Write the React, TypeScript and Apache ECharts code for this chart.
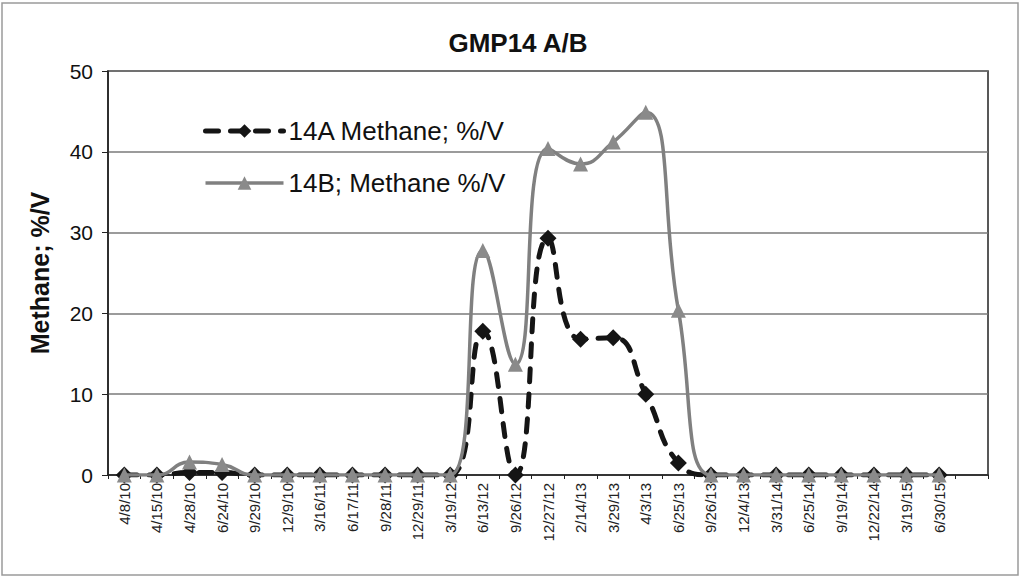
import React, { useEffect, useRef } from "react";
import * as echarts from "echarts";

const categories = [
  "4/8/10", "4/15/10", "4/28/10", "6/24/10", "9/29/10", "12/9/10", "3/16/11",
  "6/17/11", "9/28/11", "12/29/11", "3/19/12", "6/13/12", "9/26/12", "12/27/12",
  "2/14/13", "3/29/13", "4/3/13", "6/25/13", "9/26/13", "12/4/13", "3/31/14",
  "6/25/14", "9/19/14", "12/22/14", "3/19/15", "6/30/15", "",
];

const methane14A = [
  0, 0, 0.3, 0.3, 0, 0, 0, 0, 0, 0, 0, 17.8, 0, 29.3, 16.8, 17, 10, 1.5, 0, 0, 0,
  0, 0, 0, 0, 0, null,
];

const methane14B = [
  0, 0, 1.6, 1.3, 0, 0, 0, 0, 0, 0, 0, 27.8, 13.7, 40.4, 38.5, 41.2, 44.9, 20.4, 0,
  0, 0, 0, 0, 0, 0, 0, null,
];

const yTicks = [0, 10, 20, 30, 40, 50];

const FONT = "'Liberation Sans', Arial, sans-serif";

export default function App() {
  const ref = useRef<HTMLDivElement>(null);

  useEffect(() => {
    if (!ref.current) return;
    const chart = echarts.init(ref.current, undefined, { renderer: "svg" });
    chart.setOption({
      animation: false,
      backgroundColor: "#ffffff",
      title: {
        text: "GMP14 A/B",
        left: 513,
        top: 25,
        textAlign: "center",
        textStyle: {
          fontFamily: FONT,
          fontSize: 26,
          fontWeight: "bold",
          color: "#111",
        },
      },
      graphic: [
        {
          type: "rect",
          shape: { x: 2, y: 3, width: 1016, height: 572 },
          style: { fill: "none", stroke: "#9a9a9a", lineWidth: 1.5 },
          silent: true,
        },
      ],
      legend: {
        orient: "vertical",
        left: 198,
        top: 113,
        itemGap: 26,
        itemWidth: 78,
        itemHeight: 17,
        textStyle: { fontFamily: FONT, fontSize: 26, color: "#111" },
        data: [
          {
            name: "14A Methane; %/V",
            lineStyle: { width: 5, type: [13, 12], cap: "round", color: "#151515" },
          },
          {
            name: "14B; Methane %/V",
            lineStyle: { width: 3.5, color: "#808080" },
          },
        ],
      },
      grid: {
        left: 108,
        right: 33,
        top: 71,
        bottom: 103,
        show: true,
        borderColor: "#222",
        borderWidth: 1.5,
        backgroundColor: "transparent",
      },
      xAxis: {
        type: "category",
        data: categories,
        boundaryGap: true,
        axisLine: { lineStyle: { color: "#222", width: 1.5 } },
        axisTick: {
          show: true,
          interval: 0,
          length: 4,
          lineStyle: { color: "#222" },
        },
        axisLabel: {
          interval: 0,
          rotate: 90,
          fontFamily: FONT,
          fontSize: 15,
          color: "#222",
          margin: 8,
        },
      },
      yAxis: {
        type: "value",
        min: 0,
        max: 50,
        interval: 10,
        name: "Methane; %/V",
        nameLocation: "middle",
        nameGap: 56,
        nameTextStyle: {
          fontFamily: FONT,
          fontSize: 25,
          fontWeight: "bold",
          color: "#111",
        },
        axisLine: { show: true, lineStyle: { color: "#222", width: 1.5 } },
        axisTick: { show: true, length: 6, inside: false, lineStyle: { color: "#222" } },
        axisLabel: {
          fontFamily: FONT,
          fontSize: 21,
          color: "#111",
          margin: 15,
          formatter: (v: number) => (yTicks.includes(v) ? String(v) : ""),
        },
        splitLine: { show: true, lineStyle: { color: "#7a7a7a", width: 1.5 } },
      },
      series: [
        {
          name: "14A Methane; %/V",
          type: "line",
          data: methane14A,
          smooth: 0.5,
          symbol: "diamond",
          symbolSize: 17,
          z: 2,
          itemStyle: { color: "#151515" },
          lineStyle: {
            color: "#151515",
            width: 5,
            type: [13, 12],
            cap: "round",
          },
        },
        {
          name: "14B; Methane %/V",
          type: "line",
          data: methane14B,
          smooth: 0.5,
          symbol: "triangle",
          symbolSize: 15,
          z: 3,
          itemStyle: { color: "#8a8a8a" },
          lineStyle: { color: "#808080", width: 3.5 },
        },
      ],
    });
    return () => chart.dispose();
  }, []);

  return (
    <div
      ref={ref}
      style={{ position: "fixed", left: 0, top: 0, width: 1021, height: 578 }}
    />
  );
}
